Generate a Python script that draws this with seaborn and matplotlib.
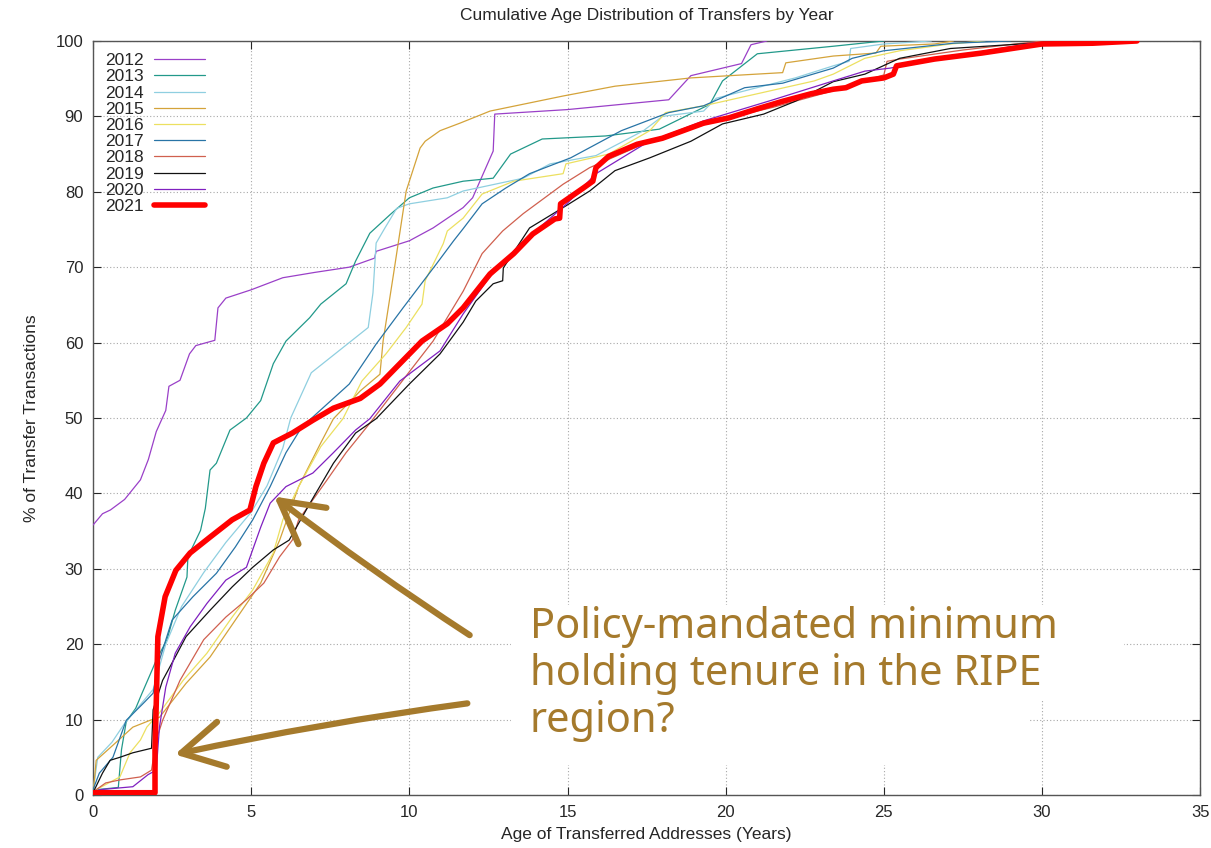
import matplotlib
matplotlib.use("Agg")
import matplotlib.pyplot as plt
import seaborn as sns
from matplotlib.patches import Rectangle

# years of transfer, with line colours
years = ["2012", "2013", "2014", "2015", "2016", "2017", "2018", "2019", "2020", "2021"]
colors = ["#9a40c8", "#22998a", "#8fcfe0", "#d4a33a", "#ece060",
          "#2874a6", "#d0604f", "#111111", "#8020c0", "#ff0000"]

# age (years) / cumulative % for each year
x_2012 = [0, 0.3, 0.55, 1.0, 1.5, 1.75, 2.0, 2.3, 2.4, 2.75, 3.05, 3.25, 3.85, 3.95, 4.2, 5.0, 6.0, 7.0,
          8.1, 8.9, 8.95, 10.0, 10.75, 11.7, 12.0, 12.65, 12.7, 15.0, 18.2, 18.9, 20.5, 20.8, 21.3]
y_2012 = [35.8, 37.3, 37.8, 39.2, 41.8, 44.5, 48.2, 51.0, 54.2, 55.0, 58.5, 59.6, 60.3, 64.6, 65.9, 67.0,
          68.6, 69.3, 70.0, 71.2, 72.1, 73.5, 75.2, 77.9, 79.2, 85.4, 90.3, 90.9, 92.2, 95.4, 97.0, 99.5, 100]

x_2013 = [0, 0.1, 0.8, 0.9, 1.05, 1.35, 1.55, 1.87, 2.0, 2.34, 2.6, 2.97, 3.0, 3.4, 3.55, 3.7, 3.9, 4.33,
          4.85, 5.3, 5.7, 6.1, 6.85, 7.2, 8.0, 8.3, 8.75, 9.4, 10.0, 10.75, 11.7, 12.65, 13.2, 14.2, 16.2,
          17.9, 19.5, 19.9, 21.0, 23.4, 25.0]
y_2013 = [0, 0.7, 1.0, 6.0, 9.7, 11.5, 13.5, 16.6, 17.9, 20.6, 24.5, 28.9, 31.6, 35.1, 38.0, 43.1, 44.0,
          48.4, 50.0, 52.3, 57.2, 60.2, 63.3, 65.1, 67.8, 70.8, 74.5, 77.0, 79.2, 80.5, 81.4, 81.8, 85.0,
          87.0, 87.4, 88.3, 91.6, 94.7, 98.3, 99.3, 100]

x_2014 = [0, 0.15, 0.6, 1.0, 1.5, 1.9, 2.3, 2.8, 3.5, 4.2, 5.0, 5.5, 6.0, 6.25, 6.9, 7.8, 8.7, 8.85, 8.95,
          9.2, 9.6, 10.0, 11.2, 11.7, 13.6, 14.45, 15.9, 17.4, 18.0, 19.3, 19.7, 20.8, 22.2, 23.4, 23.9,
          23.95, 25.0, 26.5]
y_2014 = [0.5, 5.0, 7.0, 9.5, 12.0, 14.0, 20.0, 25.0, 29.5, 33.5, 37.5, 41.0, 46.0, 50.0, 56.0, 59.0, 62.0,
          66.6, 73.2, 75.0, 77.8, 78.4, 79.2, 80.1, 81.8, 83.7, 84.8, 88.1, 90.0, 90.7, 92.4, 93.6, 95.1,
          96.7, 97.3, 99.0, 99.6, 100]

x_2015 = [0, 0.1, 0.63, 1.26, 1.8, 2.1, 2.94, 3.7, 4.5, 5.3, 5.9, 6.5, 7.2, 7.6, 8.45, 9.07, 9.17, 9.5,
          9.9, 10.34, 10.5, 10.97, 11.6, 12.55, 14.86, 16.5, 18.9, 21.8, 21.9, 23.4, 24.75, 24.9, 26.6, 27.2]
y_2015 = [0, 4.6, 6.6, 9.0, 9.9, 10.3, 14.8, 18.3, 23.2, 28.1, 33.8, 40.9, 46.7, 49.9, 53.6, 55.8, 60.2,
          69.1, 80.1, 85.8, 86.7, 88.1, 89.1, 90.7, 92.7, 94.0, 95.1, 95.8, 97.1, 98.0, 98.4, 99.3, 99.6, 100]

x_2016 = [0, 0.1, 0.85, 1.17, 1.5, 1.7, 2.1, 2.85, 3.6, 4.4, 5.05, 5.7, 6.0, 6.5, 7.2, 7.9, 8.5, 9.26,
          9.9, 10.4, 10.5, 11.07, 11.2, 11.7, 12.3, 13.3, 14.86, 14.95, 16.3, 17.6, 18.1, 19.3, 21.0, 22.8,
          23.4, 24.4, 25.5, 27.1, 28.2]
y_2016 = [0, 0.7, 2.4, 5.6, 7.3, 9.0, 10.9, 15.2, 18.8, 23.6, 27.2, 32.1, 36.5, 40.9, 46.2, 49.9, 54.9,
          58.5, 62.0, 65.1, 68.2, 73.1, 74.8, 76.5, 79.7, 81.4, 82.4, 83.7, 85.0, 88.1, 90.5, 91.4, 93.0,
          94.7, 95.6, 97.7, 98.7, 99.6, 100]

x_2017 = [0, 0.2, 0.63, 1.05, 1.6, 1.9, 2.1, 2.5, 3.16, 3.9, 4.5, 5.05, 5.6, 6.1, 6.6, 8.1, 8.95, 9.8,
          10.85, 11.4, 11.7, 12.3, 13.05, 13.8, 15.1, 16.7, 18.2, 19.3, 20.6, 21.8, 23.4, 24.0, 25.0, 27.2, 29.0]
y_2017 = [0.7, 2.9, 5.0, 9.9, 12.2, 13.5, 17.9, 23.2, 26.3, 29.4, 32.9, 36.5, 40.9, 45.4, 48.8, 54.5, 59.8,
          64.6, 70.4, 73.5, 75.1, 78.4, 80.5, 82.4, 84.5, 88.1, 90.5, 91.4, 93.8, 94.4, 96.4, 97.7, 98.7,
          99.7, 100]

x_2018 = [0, 0.1, 0.4, 0.85, 1.5, 1.85, 2.0, 2.2, 2.75, 3.5, 4.2, 4.85, 5.4, 5.9, 6.3, 6.5, 7.4, 8.0,
          8.75, 9.7, 10.75, 11.7, 12.3, 12.95, 13.6, 14.86, 15.7, 17.5, 19.7, 21.5, 23.4, 25.0, 25.1, 25.5,
          27.5, 30.0]
y_2018 = [0, 0.7, 1.6, 2.0, 2.4, 3.3, 7.3, 9.9, 15.2, 20.6, 23.6, 25.9, 28.1, 31.6, 33.8, 36.5, 41.8,
          45.4, 49.3, 54.5, 60.2, 66.8, 71.8, 74.8, 77.1, 81.0, 83.2, 86.5, 89.4, 91.2, 93.4, 95.5, 97.3,
          97.6, 98.8, 100]

x_2019 = [0, 0.3, 0.54, 0.85, 1.26, 1.85, 1.9, 2.2, 2.6, 2.94, 3.7, 4.4, 5.05, 5.7, 6.2, 6.86, 7.6, 8.3,
          8.95, 10.0, 10.97, 11.7, 12.1, 12.65, 12.95, 12.97, 13.8, 14.86, 15.7, 16.5, 17.6, 18.9, 19.9,
          21.2, 22.2, 23.4, 24.4, 25.5, 27.1, 29.7, 31.0]
y_2019 = [0.3, 2.9, 4.6, 5.0, 5.6, 6.2, 11.3, 15.2, 18.3, 21.0, 24.5, 27.6, 30.2, 32.5, 33.8, 38.7, 44.0,
          48.0, 49.9, 54.5, 58.5, 62.7, 65.5, 67.8, 68.2, 69.9, 75.2, 77.9, 80.1, 82.8, 84.5, 86.7, 89.0,
          90.3, 92.0, 94.6, 95.6, 97.7, 99.0, 99.7, 100]

x_2020 = [0, 0.2, 1.26, 1.74, 2.0, 2.1, 2.3, 2.6, 3.07, 3.6, 4.2, 4.85, 5.3, 5.6, 6.1, 6.95, 7.6, 8.3,
          8.75, 9.7, 10.97, 11.7, 12.5, 13.5, 15.0, 15.9, 17.5, 19.3, 21.5, 23.4, 24.4, 25.2, 27.5, 29.7, 31.0]
y_2020 = [0, 0.7, 1.1, 2.7, 3.3, 9.0, 14.3, 18.8, 22.3, 25.4, 28.5, 30.2, 35.5, 38.7, 40.9, 42.7, 45.4,
          48.4, 49.9, 54.9, 58.9, 63.8, 68.5, 73.0, 78.5, 82.4, 86.5, 89.4, 92.2, 94.7, 96.0, 96.4, 98.2,
          99.7, 100]

x_2021 = [0, 1.96, 1.96, 2.0, 2.05, 2.28, 2.62, 3.07, 3.7, 4.4, 4.96, 5.15, 5.4, 5.7, 6.3, 6.95, 7.6,
          8.45, 9.07, 9.7, 10.4, 11.2, 11.7, 12.55, 13.3, 13.9, 14.6, 14.75, 14.78, 15.5, 15.8, 15.9, 16.3,
          17.2, 18.0, 19.3, 20.1, 21.0, 21.8, 22.7, 23.4, 23.8, 24.3, 25.0, 25.3, 25.4, 26.6, 28.1, 30.0,
          31.6, 33.0]
y_2021 = [0.3, 0.3, 6.0, 12.2, 21.0, 26.3, 29.8, 32.1, 34.2, 36.5, 37.8, 40.9, 44.0, 46.7, 48.0, 49.7,
          51.3, 52.6, 54.5, 57.2, 60.2, 62.5, 64.6, 69.1, 71.8, 74.4, 76.4, 76.5, 78.4, 80.5, 81.4, 83.2,
          84.7, 86.3, 87.1, 89.1, 89.8, 91.0, 92.0, 93.0, 93.6, 93.8, 94.7, 95.1, 95.6, 96.7, 97.6, 98.4,
          99.6, 99.7, 100]

series_x = [x_2012, x_2013, x_2014, x_2015, x_2016, x_2017, x_2018, x_2019, x_2020, x_2021]
series_y = [y_2012, y_2013, y_2014, y_2015, y_2016, y_2017, y_2018, y_2019, y_2020, y_2021]

note = "Policy-mandated minimum\nholding tenure in the RIPE\nregion?"
brown = "#a57a2c"

sns.set_style("ticks")
plt.rcParams["font.family"] = ["Liberation Sans", "DejaVu Sans"]

fig = plt.figure(figsize=(12.11, 8.48), dpi=100)
ax = fig.add_axes([0.0768, 0.0625, 0.9143, 0.8892])

for yr, c, xs, ys in zip(years, colors, series_x, series_y):
    lw = 4.0 if yr == "2021" else 0.9
    sns.lineplot(x=xs, y=ys, ax=ax, color=c, linewidth=lw, label=yr,
                 sort=False, estimator=None, zorder=5 if yr == "2021" else 3)

ax.set_xlim(0, 35)
ax.set_ylim(0, 100)
ax.set_xticks(range(0, 36, 5))
ax.set_yticks(range(0, 101, 10))
ax.grid(True, color="#a8a8a8", linestyle=(0, (1, 2)), linewidth=0.8)
ax.tick_params(direction="in", top=True, right=True, length=6, labelsize=12, pad=7)
for s in ax.spines.values():
    s.set_color("#555555")
    s.set_linewidth(1.0)

ax.set_title("Cumulative Age Distribution of Transfers by Year", fontsize=12.5, pad=15)
ax.set_xlabel("Age of Transferred Addresses (Years)", fontsize=12.5, labelpad=5)
ax.set_ylabel("% of Transfer Transactions", fontsize=12.5, labelpad=12)

leg = ax.legend(loc="upper left", frameon=False, markerfirst=False, handlelength=2.9,
                fontsize=12.5, labelspacing=0.06, borderaxespad=0.3, handletextpad=0.6)

# white patch behind the note (pasted in the original)
ax.add_patch(Rectangle((13.2, 12.6), 19.4, 12.6, facecolor="white", edgecolor="none", zorder=2.5))
ax.add_patch(Rectangle((13.2, 4.0), 16.4, 8.7, facecolor="white", edgecolor="none", zorder=2.5))

ax.text(13.8, 25.0, note, fontsize=30, color=brown, va="top", ha="left", fontweight="medium",
        linespacing=1.15, family=["Noto Sans", "DejaVu Sans"], zorder=6)

arrow = dict(arrowstyle="->, head_length=1.0, head_width=0.55", color=brown, lw=4.5,
             mutation_scale=30, capstyle="round", joinstyle="round")
ax.annotate("", xy=(5.66, 39.8), xytext=(11.98, 21.0),
            arrowprops=dict(arrow, connectionstyle="arc3,rad=-0.02"), zorder=6)
ax.annotate("", xy=(2.5, 5.3), xytext=(11.92, 12.2),
            arrowprops=dict(arrow, connectionstyle="arc3,rad=0.02"), zorder=6)

fig.savefig("out.png", dpi=100)
